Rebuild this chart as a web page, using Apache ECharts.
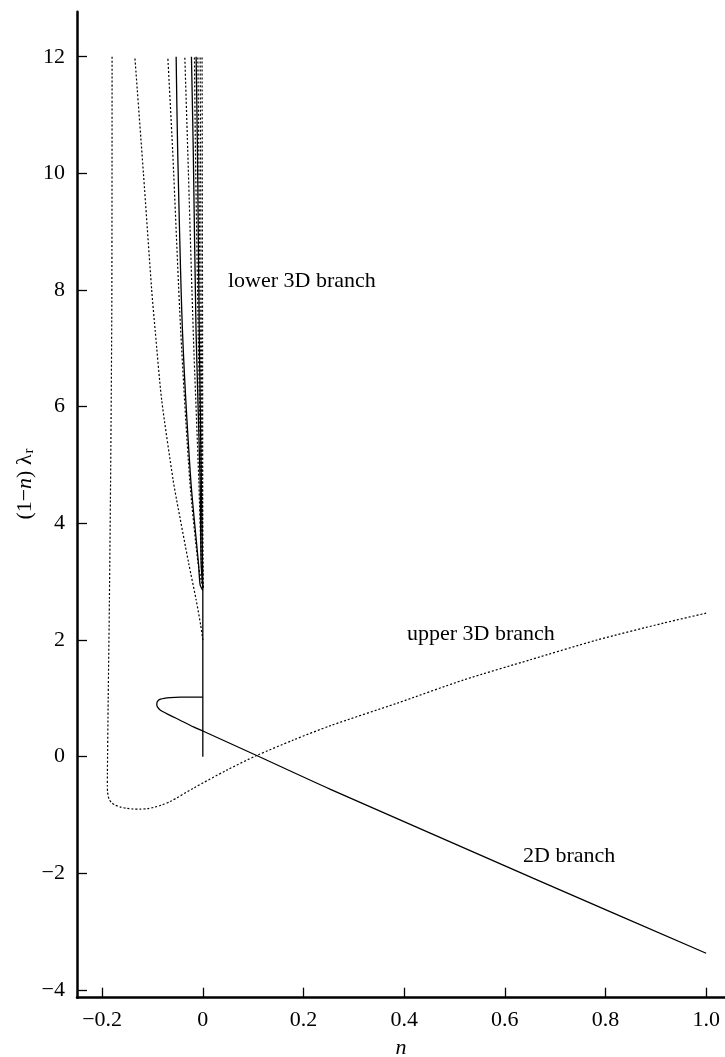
<!DOCTYPE html>
<html>
<head>
<meta charset="utf-8">
<script src="https://cdn.jsdelivr.net/npm/echarts@6/dist/echarts.min.js"></script>
<style>
  html, body { margin: 0; padding: 0; background: #fff; }
  #chart { width: 725px; height: 1057px; }
</style>
</head>
<body>
<div id="chart"></div>
<script>
// ticks
const xTicks = [-0.2, 0, 0.2, 0.4, 0.6, 0.8, 1.0]
const yTicks = [-4, -2, 0, 2, 4, 6, 8, 10, 12]

// 2D branch (solid), [n, (1-n) lambda_r]
const branch2D = [
  [1.0, -3.37], [0.657, -2.085], [0.2536, -0.56], [0.107, 0.02], [0, 0.44],
  [-0.0185, 0.51], [-0.052, 0.655], [-0.07, 0.73], [-0.08, 0.775], [-0.086, 0.81],
  [-0.0895, 0.845], [-0.0912, 0.875], [-0.0914, 0.903], [-0.0905, 0.94], [-0.0885, 0.965],
  [-0.084, 0.985], [-0.077, 1.0], [-0.065, 1.012], [-0.045, 1.02], [0, 1.022]
]
// vertical solid piece on n = 0
const stem2D = [[0, 0], [0, 2.9]]

// upper 3D branch (dotted)
const upper3D = [
  [1.0, 2.46], [0.915, 2.29], [0.783, 2.0], [0.65, 1.66], [0.518, 1.315],
  [0.3854, 0.915], [0.2536, 0.532], [0.18, 0.286], [0.107, 0.02], [0.0477, -0.23],
  [-0.0187, -0.54], [-0.065, -0.77], [-0.082, -0.83], [-0.098, -0.87], [-0.11, -0.89],
  [-0.1246, -0.9], [-0.138, -0.897], [-0.151, -0.885], [-0.163, -0.865], [-0.1743, -0.83],
  [-0.181, -0.79], [-0.1855, -0.74], [-0.188, -0.68], [-0.1893, -0.6], [-0.1897, -0.5],
  [-0.1896, -0.3], [-0.188, 1.0], [-0.1856, 2.69], [-0.183, 5.0], [-0.1808, 7.83], [-0.1803, 12]
]

// lower 3D branches
const lower3D_1 = [[0, 2.0], [-0.0044, 2.26], [-0.0133, 2.69], [-0.0282, 3.32], [-0.052, 4.4], [-0.059, 4.74], [-0.0818, 6.12], [-0.0947, 7.31], [-0.1016, 8.0], [-0.118, 10.0], [-0.1351, 12]]
const lower3D_2 = [[0, 2.9], [-0.0095, 3.32], [-0.026, 4.74], [-0.044, 7.31], [-0.06, 10.4], [-0.0696, 12]]
const lower3D_3 = [[0, 2.85], [-0.0054, 2.95], [-0.0087, 3.32], [-0.0239, 4.74], [-0.0405, 7.31], [-0.05, 10.4], [-0.053, 12]]
const lower3D_4 = [[0, 2.9], [-0.003, 3.32], [-0.008, 4.74], [-0.0187, 7.2], [-0.03, 10.4], [-0.0358, 12]]
const lower3D_5 = [[0, 2.9], [-0.0034, 3.32], [-0.0054, 4.74], [-0.0135, 7.3], [-0.019, 10.4], [-0.0226, 12]]
const lower3D_6 = [[0, 2.9], [-0.004, 4.74], [-0.009, 7.2], [-0.0147, 10.4], [-0.0166, 12]]
const lower3D_7 = [[0, 2.9], [-0.003, 4.74], [-0.007, 7.2], [-0.0107, 10.4], [-0.0133, 12]]
const lower3D_8 = [[0, 2.9], [-0.002, 4.74], [-0.005, 7.2], [-0.008, 10.4], [-0.0099, 12]]
const lower3D_9 = [[0, 2.9], [-0.001, 4.74], [-0.003, 7.2], [-0.0045, 10.4], [-0.0053, 12]]
const lower3D_10 = [[0, 2.9], [-0.0005, 7.2], [-0.0015, 12]]

const FONT = '"Liberation Serif", "Times New Roman", serif'
const SOLID = { color: '#000', width: 1.3, type: 'solid' }
const DOTTED = { color: '#000', width: 1.2, type: [2, 2] }

const curves = [
  { data: branch2D, style: SOLID },
  { data: stem2D, style: SOLID },
  { data: upper3D, style: DOTTED },
  { data: lower3D_1, style: DOTTED },
  { data: lower3D_2, style: DOTTED },
  { data: lower3D_3, style: SOLID },
  { data: lower3D_4, style: DOTTED },
  { data: lower3D_5, style: SOLID },
  { data: lower3D_6, style: DOTTED },
  { data: lower3D_7, style: SOLID },
  { data: lower3D_8, style: DOTTED },
  { data: lower3D_9, style: DOTTED },
  { data: lower3D_10, style: DOTTED }
]

const minus = v => (v < 0 ? '\u2212' : '') + Math.abs(v)

const chart = echarts.init(document.getElementById('chart'))
chart.setOption({
  animation: false,
  backgroundColor: '#fff',
  textStyle: { fontFamily: FONT, color: '#000' },
  grid: { left: 77, top: 11.7, width: 648, height: 986, outerBoundsMode: 'none' },
  xAxis: {
    type: 'value',
    min: -0.25,
    max: 1.0375,
    name: 'n',
    nameLocation: 'middle',
    nameGap: 40,
    nameTextStyle: { fontFamily: FONT, fontSize: 22, fontStyle: 'italic', color: '#000' },
    axisLine: { onZero: false, lineStyle: { color: '#000', width: 2.5 } },
    axisTick: { inside: true, length: 10, customValues: xTicks, lineStyle: { color: '#000', width: 1.3 } },
    axisLabel: {
      customValues: xTicks, margin: 12, fontFamily: FONT, fontSize: 22, color: '#000',
      formatter: v => v === 0 ? '0' : (v < 0 ? '\u2212' : '') + Math.abs(v).toFixed(1)
    },
    splitLine: { show: false }
  },
  yAxis: {
    type: 'value',
    min: -4.132,
    max: 12.772,
    axisLine: { onZero: false, lineStyle: { color: '#000', width: 2.5 } },
    axisTick: { inside: true, length: 10, customValues: yTicks, lineStyle: { color: '#000', width: 1.3 } },
    axisLabel: { customValues: yTicks, margin: 12, fontFamily: FONT, fontSize: 22, color: '#000', formatter: minus },
    splitLine: { show: false }
  },
  graphic: [
    {
      type: 'text', x: 25, y: 484, rotation: Math.PI / 2,
      style: {
        text: '(1\u2212{i|n}) \u03bb{s|r}',
        font: '22px ' + FONT, fill: '#000', align: 'center', verticalAlign: 'middle',
        rich: {
          i: { fontFamily: FONT, fontSize: 22, fontStyle: 'italic' },
          s: { fontFamily: FONT, fontSize: 15, verticalAlign: 'bottom', padding: [8, 0, 0, 1] }
        }
      }
    },
    { type: 'text', x: 228, y: 281, style: { text: 'lower 3D branch', font: '22px ' + FONT, fill: '#000', verticalAlign: 'middle' } },
    { type: 'text', x: 407, y: 634, style: { text: 'upper 3D branch', font: '22px ' + FONT, fill: '#000', verticalAlign: 'middle' } },
    { type: 'text', x: 523, y: 856, style: { text: '2D branch', font: '22px ' + FONT, fill: '#000', verticalAlign: 'middle' } }
  ],
  series: curves.map(c => ({
    type: 'line',
    data: c.data,
    showSymbol: false,
    smooth: 0.25,
    silent: true,
    clip: true,
    lineStyle: c.style
  }))
})
</script>
</body>
</html>
